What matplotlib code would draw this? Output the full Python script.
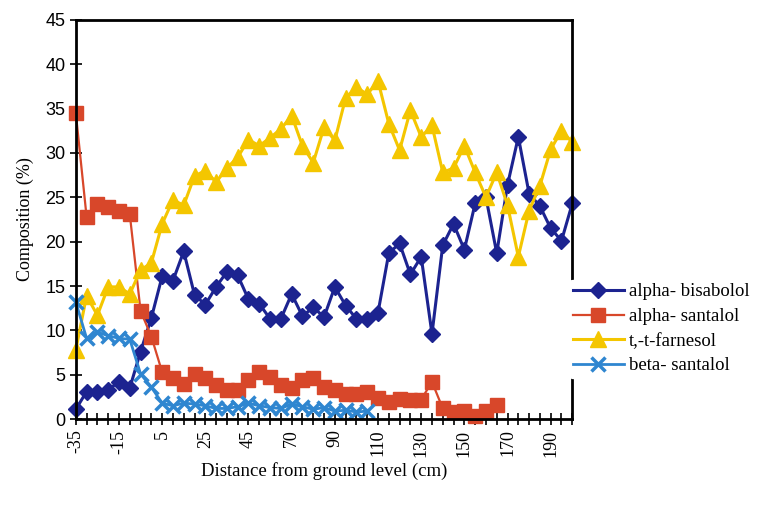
import matplotlib

matplotlib.use("Agg")
import matplotlib.pyplot as plt

# sampling heights (cm); 60 cm was not sampled
heights = [-35, -30, -25, -20, -15, -10, -5, 0, 5, 10, 15, 20, 25, 30, 35, 40, 45,
           50, 55, 65, 70, 75, 80, 85, 90, 95, 100, 105, 110, 115, 120, 125, 130,
           135, 140, 145, 150, 155, 160, 165, 170, 175, 180, 185, 190, 195, 200]

alpha_bisabolol = [1.1, 3.1, 3.0, 3.3, 4.2, 3.5, 7.6, 11.4, 16.1, 15.6,
                   18.9, 14.0, 12.9, 14.9, 16.6, 16.2, 13.5, 13.0, 11.3, 11.3,
                   14.1, 11.6, 12.6, 11.5, 14.9, 12.8, 11.3, 11.3, 12.0, 18.7,
                   19.8, 16.3, 18.3, 9.6, 19.6, 22.0, 19.1, 24.3, 25.0, 18.7,
                   26.4, 31.8, 25.4, 24.0, 21.5, 20.1, 24.3]

alpha_santalol = [34.5, 22.8, 24.2, 23.9, 23.5, 23.1, 12.2, 9.3, 5.3, 4.6,
                  3.9, 5.1, 4.6, 3.8, 3.3, 3.3, 4.4, 5.3, 4.8, 3.8,
                  3.5, 4.4, 4.6, 3.6, 3.3, 2.8, 2.8, 3.0, 2.4, 1.9,
                  2.3, 2.1, 2.2, 4.2, 1.2, 0.8, 0.9, 0.3, 0.9, 1.6]

farnesol = [7.8, 13.9, 11.7, 14.9, 14.9, 14.1, 16.8, 17.6, 22.0, 24.7,
            24.1, 27.4, 28.0, 26.7, 28.3, 29.5, 31.5, 30.8, 31.7, 32.7,
            34.2, 30.8, 28.9, 32.9, 31.4, 36.2, 37.4, 36.6, 38.1, 33.3,
            30.3, 34.8, 31.8, 33.1, 27.8, 28.3, 30.8, 27.8, 25.0, 27.8,
            24.1, 18.3, 23.5, 26.3, 30.4, 32.5, 31.2]

beta_santalol = [13.2, 9.1, 9.8, 9.4, 9.1, 9.0, 5.1, 3.6, 1.8, 1.5,
                 1.8, 1.7, 1.5, 1.2, 1.2, 1.4, 1.8, 1.5, 1.3, 1.2,
                 1.7, 1.4, 1.1, 1.3, 0.9, 1.0, 0.8, 0.9]

serif = ["Liberation Serif", "DejaVu Serif"]
sans = ["Liberation Sans", "DejaVu Sans"]

fig = plt.figure(figsize=(7.58, 5.08), dpi=100)
ax = fig.add_axes([0.100, 0.175, 0.655, 0.786])

pos = list(range(len(heights)))

ax.plot(pos[:len(alpha_bisabolol)], alpha_bisabolol, color="#1c2390", lw=2.2,
        marker="D", ms=8, label="alpha- bisabolol", clip_on=False)
ax.plot(pos[:len(alpha_santalol)], alpha_santalol, color="#d8472a", lw=1.6,
        marker="s", ms=10, label="alpha- santalol", clip_on=False)
ax.plot(pos[:len(farnesol)], farnesol, color="#f4c600", lw=2.2,
        marker="^", ms=11, label="t,-t-farnesol", clip_on=False)
ax.plot(pos[:len(beta_santalol)], beta_santalol, color="#2f86d0", lw=2.0,
        marker="x", ms=10, mew=2.5, label="beta- santalol", clip_on=False)

ax.set_xlim(0, len(heights) - 1)
ax.set_ylim(0, 45)
ax.set_yticks(range(0, 46, 5))
ax.set_xticks(pos)
ax.set_xticklabels([str(h) if i % 4 == 0 else "" for i, h in enumerate(heights)],
                   rotation=90, family=serif, fontsize=13)
for t in ax.get_yticklabels():
    t.set_family(sans)
    t.set_fontsize(13)

ax.tick_params(axis="both", direction="inout", length=8, width=1.2, color="black")
for s in ax.spines.values():
    s.set_linewidth(2)
    s.set_color("black")

ax.set_xlabel("Distance from ground level (cm)", family=serif, fontsize=13.5)
ax.set_ylabel("Composition (%)", family=serif, fontsize=13, labelpad=8)

leg = ax.legend(loc="center left", bbox_to_anchor=(0.975, 0.226), frameon=True,
                prop={"family": serif, "size": 13.5}, handlelength=2.7,
                handletextpad=0.3, labelspacing=0.4, borderpad=0.2)
leg.get_frame().set_edgecolor("white")
leg.get_frame().set_facecolor("white")
leg.get_frame().set_alpha(1.0)
leg.set_zorder(5)

fig.savefig("out.png", dpi=100)
